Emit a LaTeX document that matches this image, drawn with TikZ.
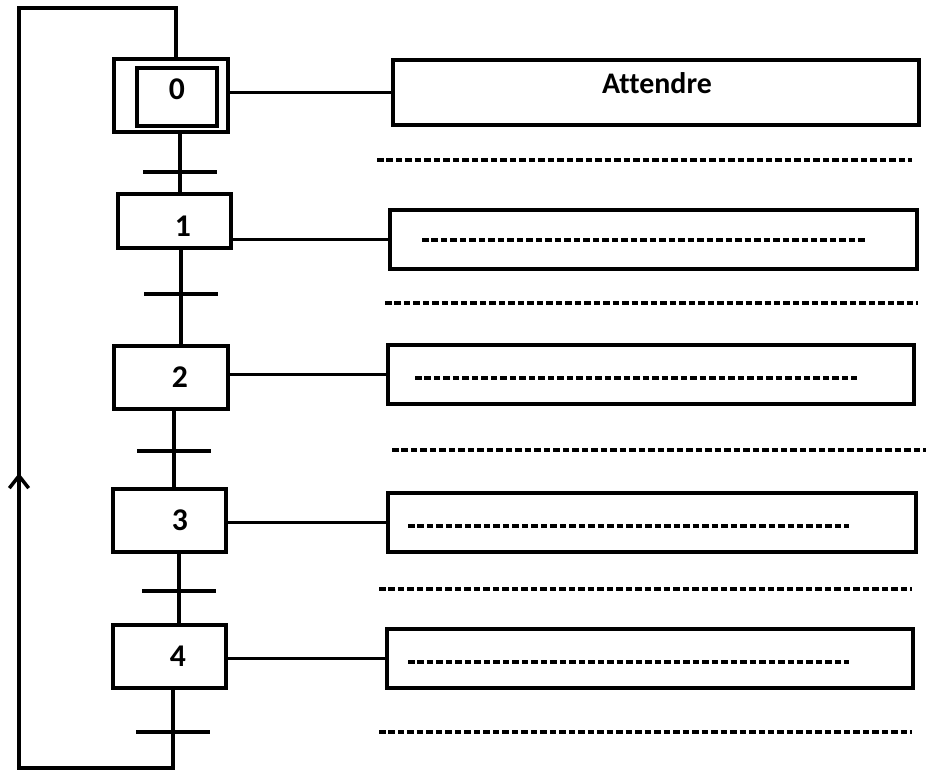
\documentclass[tikz,border=0pt]{standalone}
\usepackage{fontspec}
\setmainfont{Carlito}[Ligatures=NoCommon]
\usetikzlibrary{arrows.meta}

\begin{document}
\begin{tikzpicture}[x=0.02cm,y=-0.02cm,line width=2pt,
		etape/.style={draw,rectangle,inner sep=0pt},
		action/.style={draw,rectangle,inner sep=0pt,minimum height=1.18cm},
		num/.style={font=\bfseries\fontsize{18}{18}\selectfont},
		pointilles/.style={line width=1.8pt,dash pattern=on 3.7pt off 1.7pt}]
			\useasboundingbox (0,0) rectangle (926,770);

			% etapes
			\node[etape,minimum width=2.28cm,minimum height=1.46cm] (e0) at (171,95.5) {};
			\node[etape,minimum width=1.6cm,minimum height=1.16cm,
				label={[num,yshift=1.6mm]center:0}] (e0i) at (177,97) {};
			\node[etape,minimum width=2.26cm,minimum height=1.08cm,
				label={[num,xshift=1.7mm,yshift=-1mm]center:1}] (e1) at (174.5,221) {};
			\node[etape,minimum width=2.28cm,minimum height=1.26cm,
				label={[num,xshift=1.8mm]center:2}] (e2) at (171,377.5) {};
			\node[etape,minimum width=2.26cm,minimum height=1.26cm,
				label={[num,xshift=2.1mm]center:3}] (e3) at (169.5,520.5) {};
			\node[etape,minimum width=2.26cm,minimum height=1.26cm,
				label={[num,xshift=1.7mm]center:4}] (e4) at (169.5,656.5) {};

			% actions
			\node[action,minimum width=10.52cm,minimum height=1.3cm,
				label={[font=\bfseries\fontsize{17}{17}\selectfont,xshift=0.2mm,yshift=1.9mm]center:Attendre}] (A0) at (656,92.5) {};
			\node[action,minimum width=10.54cm] (A1) at (653.5,239.5) {};
			\node[action,minimum width=10.52cm] (A2) at (651,374.5) {};
			\node[action,minimum width=10.56cm] (A3) at (652,522.5) {};
			\node[action,minimum width=10.52cm] (A4) at (650,658.5) {};

			% transitions
			\coordinate (t0) at (180,172);
			\coordinate (t1) at (181,294);
			\coordinate (t2) at (174,451);
			\coordinate (t3) at (179,591);
			\coordinate (t4) at (173,732);

			\draw (t0 |- e0.south) -- (t0 |- e1.north);
			\draw (t1 |- e1.south) -- (t1 |- e2.north);
			\draw (t2 |- e2.south) -- (t2 |- e3.north);
			\draw (t3 |- e3.south) -- (t3 |- e4.north);
			\foreach \t in {0,...,4}
				\draw ([xshift=-7.4mm]t\t) -- ([xshift=7.4mm]t\t);

			% liaisons etape -> action
			\draw (A0.west -| e0.east) -- (A0.west);
			\draw (A1.west -| e1.east) -- (A1.west);
			\draw (A2.west -| e2.east) -- (A2.west);
			\draw (A3.west -| e3.east) -- (A3.west);
			\draw (A4.west -| e4.east) -- (A4.west);

			% retour vers l'etape initiale
			\coordinate (b1) at (173,768);
			\coordinate (b2) at (19,768);
			\coordinate (b3) at (19,8);
			\coordinate (b4) at (176,8);
			\coordinate (fl) at (19,473);
			\draw (t4 |- e4.south) -- (b1) -- (b2) -- (b3) -- (b4) -- (b4 |- e0.north);
			\draw[-{Straight Barb[length=7pt,width=11pt]}] (b2) -- (fl);

			% pointilles
			\draw[pointilles] (422,240) -- (865,240);
			\draw[pointilles] (415,378) -- (857,378);
			\draw[pointilles] (408,526) -- (849,526);
			\draw[pointilles] (408,662) -- (849,662);
			\draw[pointilles] (377,160) -- (912,160);
			\draw[pointilles] (385,303) -- (918,303);
			\draw[pointilles] (392,450) -- (926,450);
			\draw[pointilles] (379,589) -- (912,589);
			\draw[pointilles] (379,732) -- (912,732);
		\end{tikzpicture}
\end{document}
